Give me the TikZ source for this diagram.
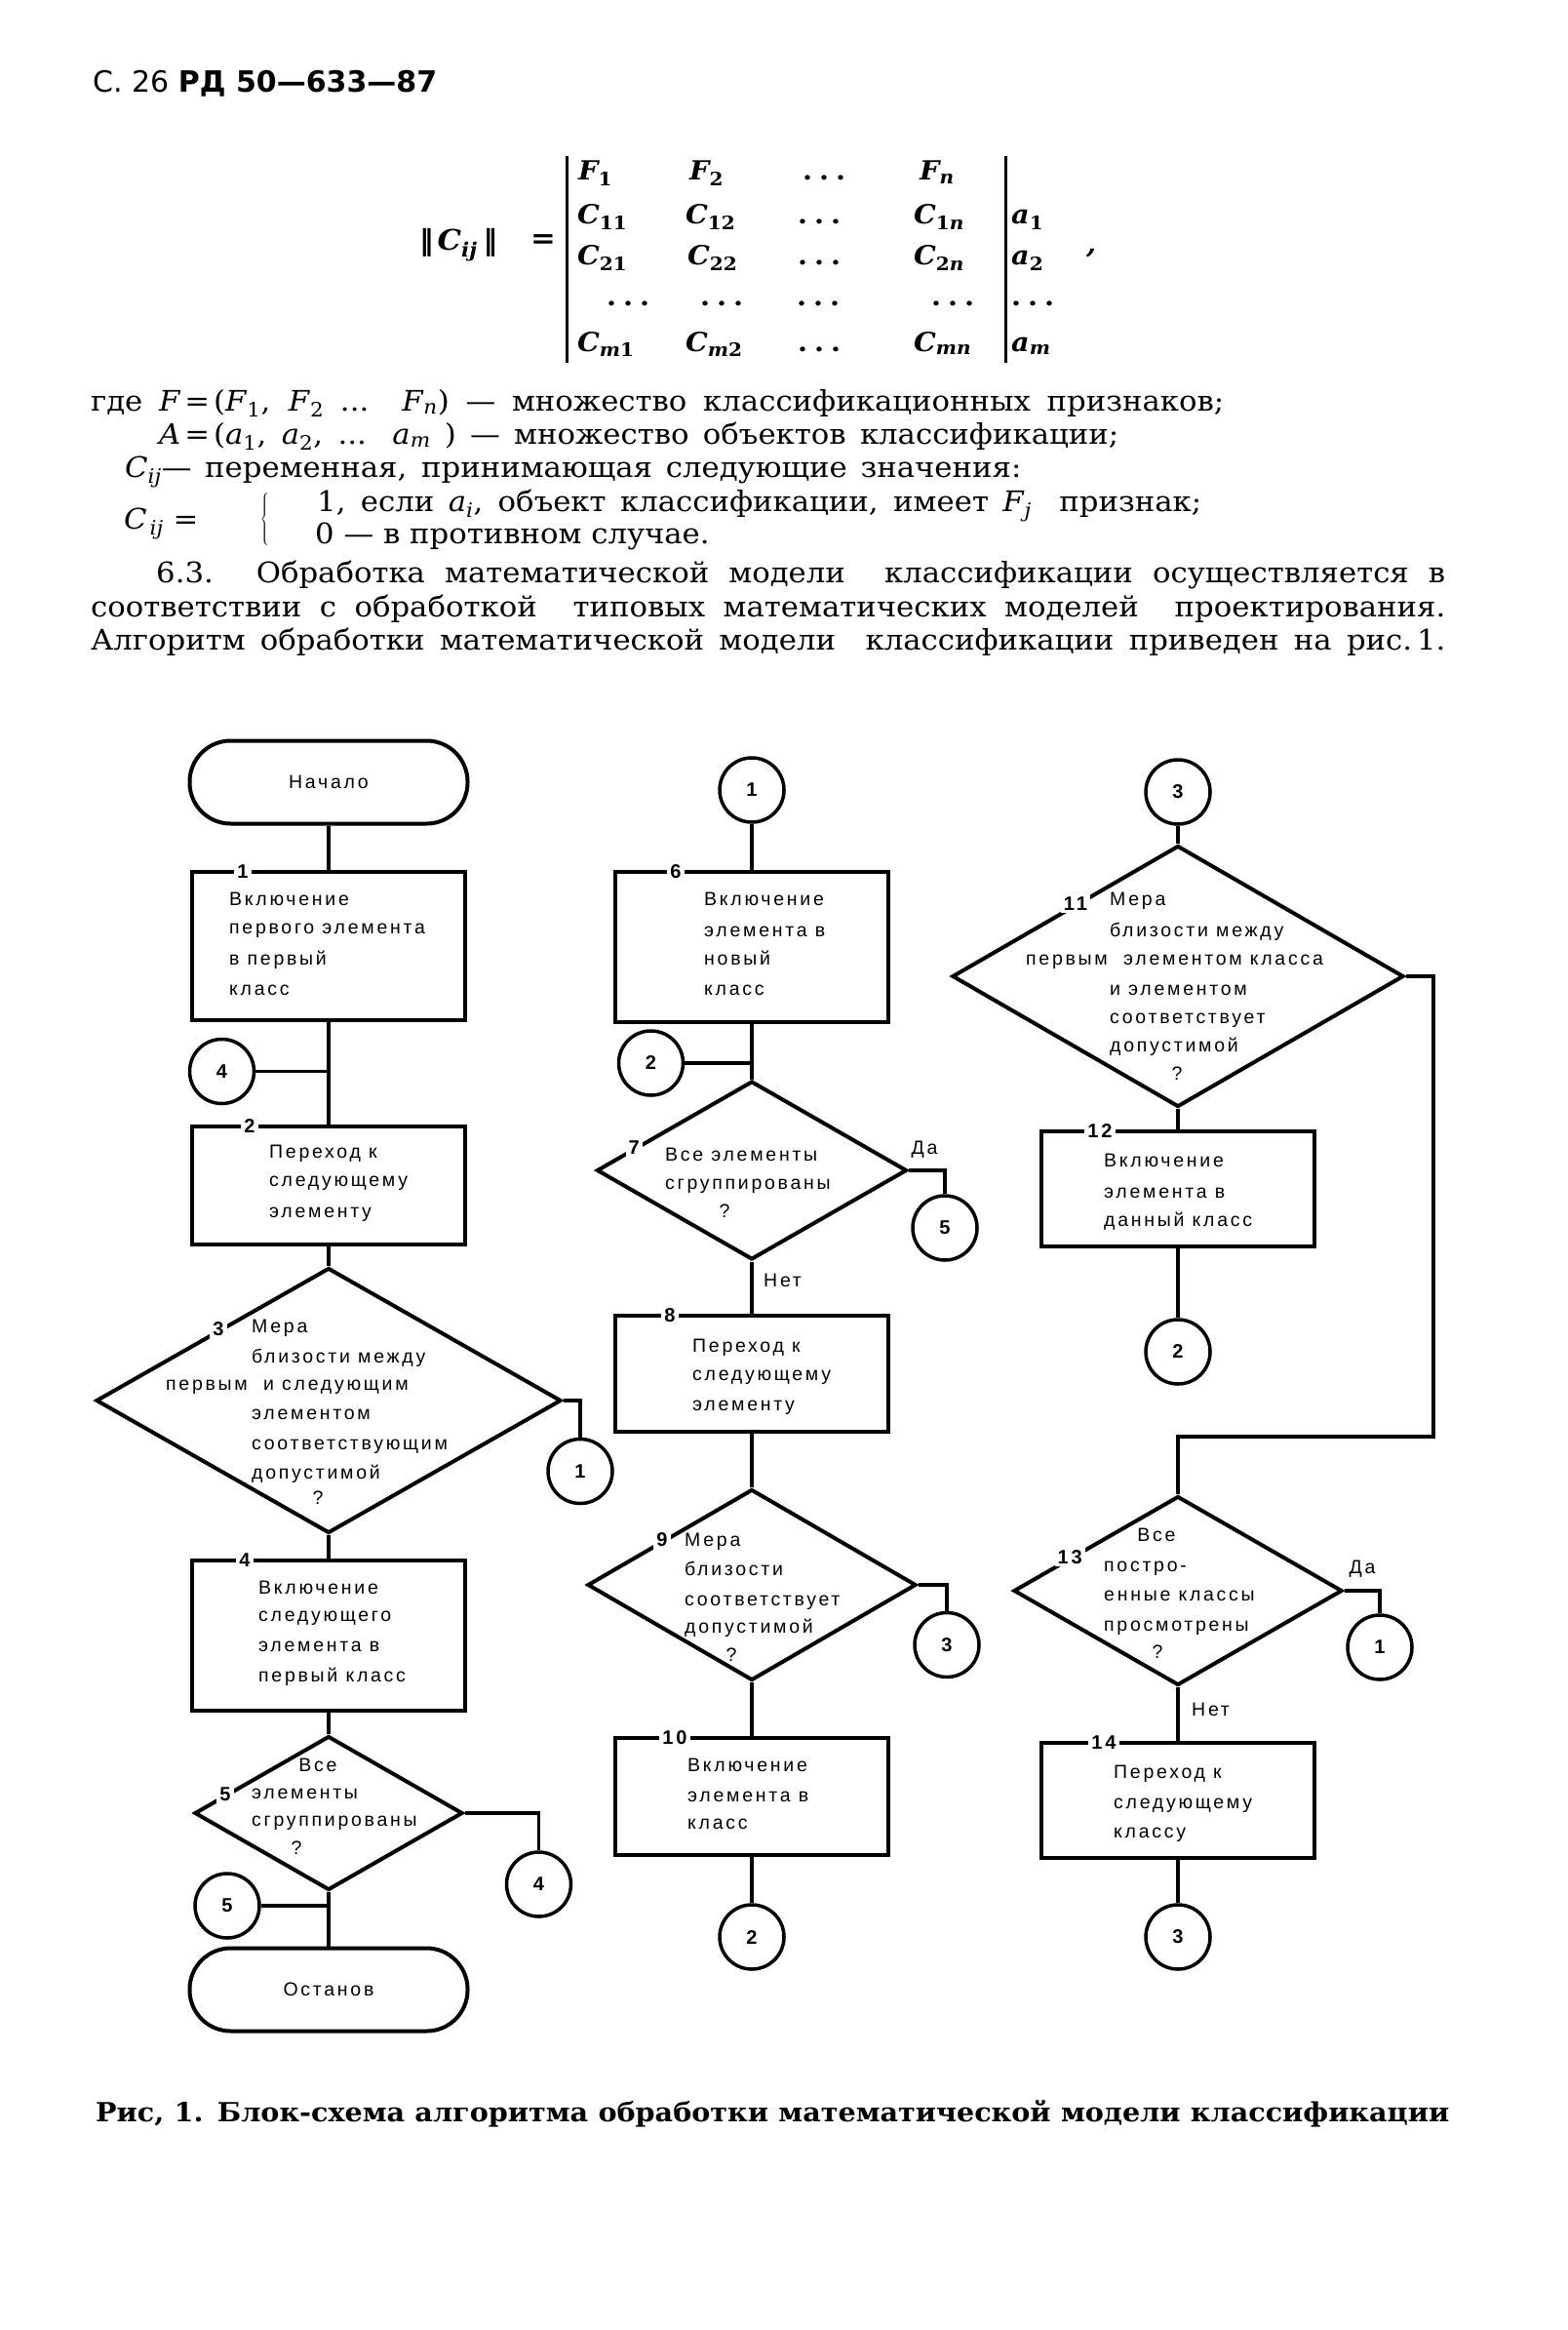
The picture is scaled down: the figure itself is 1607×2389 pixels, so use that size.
\documentclass[tikz,border=0pt]{standalone}
\usepackage{fontspec}
\setmainfont{DejaVu Serif}[FakeStretch=1.06]
\newfontfamily\flowfont{Liberation Sans}[LetterSpace=14]
\newfontfamily\hdrfont{DejaVu Sans}
\usetikzlibrary{shapes.geometric,calc}
\newcommand\flowtxt{\flowfont\fontsize{19.5}{24}\selectfont}
\newcommand\flownum{\flowfont\bfseries\fontsize{20}{24}\selectfont}
\newcommand\bodytxt{\fontsize{29}{34}\selectfont}
\newcommand\mx{\fontsize{27}{32}\selectfont\bfseries\itshape}
\newcommand\vi[1]{\textit{#1}}
\newcommand\sbs[1]{\textsubscript{#1}}
\newcommand\mdots{\upshape .\hspace{7pt}.\hspace{7pt}.}
\newcommand\ftl[4]{\node[ft] (#1) at (#2,#3) {#4};}
\newcommand\ftc[4]{\node[ftcen] (#1) at (#2,#3) {#4};}
\begin{document}
\begin{tikzpicture}[x=1pt,y=-1pt,
  conn/.style={line width=3.5pt},
  procbox/.style={draw, line width=4pt, rectangle, minimum width=280pt, inner sep=0pt},
  decis/.style={draw, line width=4pt, diamond, inner sep=0pt},
  term/.style={draw, line width=4pt, rectangle, rounded corners=42pt, minimum width=285pt, minimum height=85pt, font=\flowtxt},
  conncirc/.style={draw, line width=3.5pt, circle, minimum size=66pt, inner sep=0pt, font=\flownum},
  ft/.style={anchor=mid west, inner sep=0pt, font=\flowtxt},
  ftcen/.style={anchor=mid, inner sep=0pt, font=\flowtxt},
  numlab/.style={fill=white, inner sep=3pt, font=\flownum},
  bodyline/.style={anchor=base west, inner sep=0pt, font=\bodytxt},
  mcell/.style={anchor=base west, inner sep=0pt, font=\mx}]
\fill[white] (0,0) rectangle (1607,2389);
\useasboundingbox (0,0) rectangle (1607,2389);

% ---------- header ----------
\node[anchor=base west, inner sep=0pt] (hdr) at (95,95)
  {\hdrfont\fontsize{30}{36}\selectfont С. 26 \textbf{РД 50—633—87}};

% ---------- matrix ----------
\node[mcell, font=\fontsize{29}{34}\selectfont\bfseries\itshape] (norm) at (430,257) {{\hdrfont\bfseries ‖}\hspace{4pt}C\sbs{ij}\hspace{6pt}{\hdrfont\bfseries ‖}};
\node[mcell, font=\fontsize{29}{34}\selectfont\bfseries] (eq) at (544,255) {=};
\coordinate (lbt) at (581,160); \coordinate (lbb) at (581,372);
\coordinate (rbt) at (1031,160); \coordinate (rbb) at (1031,372);
\draw[line width=3pt] (lbt) -- (lbb);
\draw[line width=3pt] (rbt) -- (rbb);
\node[mcell] (m11) at (593,185) {F\sbs{\upshape 1}};
\node[mcell] (m12) at (707,185) {F\sbs{\upshape 2}};
\node[mcell] (m13) at (823,185) {\mdots};
\node[mcell] (m14) at (943,185) {F\sbs{n}};
\node[mcell] (m21) at (592,230) {C\sbs{\upshape 11}};
\node[mcell] (m22) at (703,230) {C\sbs{\upshape 12}};
\node[mcell] (m23) at (818,230) {\mdots};
\node[mcell] (m24) at (937,230) {C\sbs{\upshape 1\itshape n}};
\node[mcell] (m25) at (1037,230) {a\sbs{\upshape 1}};
\node[mcell] (m31) at (592,272) {C\sbs{\upshape 21}};
\node[mcell] (m32) at (705,272) {C\sbs{\upshape 22}};
\node[mcell] (m33) at (818,272) {\mdots};
\node[mcell] (m34) at (937,272) {C\sbs{\upshape 2\itshape n}};
\node[mcell] (m35) at (1037,272) {a\sbs{\upshape 2}};
\node[mcell] (m41) at (622,314) {\mdots};
\node[mcell] (m42) at (718,314) {\mdots};
\node[mcell] (m43) at (817,314) {\mdots};
\node[mcell] (m44) at (955,314) {\mdots};
\node[mcell] (m45) at (1037,314) {\mdots};
\node[mcell] (m51) at (592,360) {C\sbs{m\upshape 1}};
\node[mcell] (m52) at (703,360) {C\sbs{m\upshape 2}};
\node[mcell] (m53) at (818,360) {\mdots};
\node[mcell] (m54) at (937,360) {C\sbs{mn}};
\node[mcell] (m55) at (1037,360) {a\sbs{m}};
\node[mcell] (comma) at (1114,260) {,};

% ---------- body text ----------
\node[bodyline] (l1) at (93,421) {\makebox[1162pt][s]{где \vi{F}\kern4pt=\kern4pt(\vi{F}\sbs{1}, \vi{F}\sbs{2} ... \vi{F}\sbs{\vi{n}}) — множество классификационных признаков;}};
\node[bodyline] (l2) at (163,455) {\makebox[984pt][s]{\vi{A}\kern4pt=\kern4pt(\vi{a}\sbs{1}, \vi{a}\sbs{2}, ... \vi{a}\sbs{\vi{m}} ) — множество объектов классификации;}};
\node[bodyline] (l3) at (128,489) {\makebox[919pt][s]{\vi{C}\sbs{\vi{ij}}— переменная, принимающая следующие значения:}};
\node[bodyline] (l4a) at (127,542) {\vi{C}\kern3pt\sbs{\vi{ij}} =};
\node[anchor=mid, inner sep=0pt, font=\bodytxt] (brace) at (272,536) {$\left\{\vrule height 23pt depth 23pt width 0pt\right.$};
\node[bodyline] (l4) at (325,524) {\makebox[907pt][s]{1, если \vi{a}\sbs{\vi{i}}, объект классификации, имеет \vi{F}\sbs{\vi{j}}\ \ признак;}};
\node[bodyline] (l5) at (323,557) {0 — в противном случае.};
\node[bodyline] (l6) at (160,597) {\makebox[1322pt][s]{6.3. Обработка математической модели\ \ классификации осуществляется в}};
\node[bodyline] (l7) at (93,632) {\makebox[1389pt][s]{соответствии с обработкой\ \ типовых математических моделей\ \ проектирования.}};
\node[bodyline] (l8) at (93,666) {\makebox[1389pt][s]{Алгоритм обработки математической модели\ \ классификации приведен на рис.\,1.}};

% ---------- left column ----------
\node[term] (start) at (337,802) {Начало};
\node[procbox, minimum height=152pt] (b1) at (337,970) {};
\node[procbox, minimum height=121pt] (b2) at (337,1215.5) {};
\node[decis, minimum width=477pt, minimum height=272pt] (d3) at (337,1436) {};
\node[procbox, minimum height=154pt] (b4) at (337,1677) {};
\node[decis, minimum width=275pt, minimum height=158pt] (d5) at (337,1859) {};
\node[term] (stop) at (337,2040) {Останов};
\node[conncirc] (c4a) at (227.5,1098.5) {4};
\node[conncirc] (c1a) at (595,1508.5) {1};
\node[conncirc] (c4b) at (552.5,1932) {4};
\node[conncirc] (c5a) at (233,1954) {5};

\draw[conn] (start) -- (b1);
\draw[conn] (b1) -- (b2);
\draw[conn] (c4a) -- (c4a -| b1.south);
\draw[conn] (b2) -- (d3);
\draw[conn] (d3.east) -| (c1a.north);
\draw[conn] (d3) -- (b4);
\draw[conn] (b4) -- (d5);
\draw[conn] (d5.east) -| (c4b.north);
\draw[conn] (d5) -- (stop);
\draw[conn] (c5a) -- (c5a -| stop.north);

\node[numlab] (n1) at (249,894) {1};
\node[numlab] (n2) at (256,1155) {2};
\node[numlab] (n3) at ($(d3.west)!0.53!(d3.north)$) {3};
\node[numlab] (n4) at (251,1600) {4};
\node[numlab] (n5) at ($(d5.west)!0.24!(d5.north)$) {5};

\ftl{t1a}{235}{926}{Включение}
\ftl{t1b}{235}{955}{первого элемента}
\ftl{t1c}{235}{986.5}{в первый}
\ftl{t1d}{235}{1018}{класс}
\ftl{t2a}{276}{1185}{Переход к}
\ftl{t2b}{276}{1214}{следующему}
\ftl{t2c}{276}{1245.5}{элементу}
\ftl{t3a}{258}{1364}{Мера}
\ftl{t3b}{258}{1395}{близости между}
\ftl{t3c}{170}{1423}{первым\ \ и следующим}
\ftl{t3d}{258}{1453}{элементом}
\ftl{t3e}{258}{1483.5}{соответствующим}
\ftl{t3f}{258}{1514}{допустимой}
\ftc{t3g}{326}{1540}{?}
\ftl{t4a}{265}{1632}{Включение}
\ftl{t4b}{265}{1660}{следующего}
\ftl{t4c}{265}{1691}{элемента в}
\ftl{t4d}{265}{1722}{первый класс}
\ftc{t5a}{326}{1814}{Все}
\ftl{t5b}{258}{1842}{элементы}
\ftl{t5c}{258}{1870}{сгруппированы}
\ftc{t5d}{304}{1899}{?}

% ---------- middle column ----------
\node[conncirc] (c1m) at (771,810) {1};
\node[procbox, minimum height=154pt] (b6) at (771,971) {};
\node[conncirc] (c2m) at (667.5,1090) {2};
\node[decis, minimum width=318pt, minimum height=183pt] (d7) at (771,1200) {};
\node[conncirc] (c5m) at (969,1259) {5};
\node[procbox, minimum height=119pt] (b8) at (771,1408.5) {};
\node[decis, minimum width=337pt, minimum height=196pt] (d9) at (771,1625) {};
\node[conncirc] (c3m) at (971,1686.5) {3};
\node[procbox, minimum height=120pt] (b10) at (771,1842) {};
\node[conncirc] (c2mb) at (771,1986) {2};

\draw[conn] (c1m) -- (b6);
\draw[conn] (b6) -- (d7);
\draw[conn] (c2m) -- (c2m -| b6.south);
\draw[conn] (d7.east) -| (c5m.north);
\draw[conn] (d7) -- (b8);
\draw[conn] (b8) -- (d9);
\draw[conn] (d9.east) -| (c3m.north);
\draw[conn] (d9) -- (b10);
\draw[conn] (b10) -- (c2mb);

\node[numlab] (n6) at (693,894) {6};
\node[numlab] (n7) at ($(d7.west)!0.25!(d7.north)$) {7};
\node[numlab] (n8) at (687,1349) {8};
\node[numlab] (n9) at ($(d9.west)!0.46!(d9.north)$) {9};
\node[numlab] (n10) at (692,1782) {10};
\node[ftcen] (da1) at (948,1181) {Да};
\node[ft] (net1) at (783,1317) {Нет};

\ftl{t6a}{722}{926}{Включение}
\ftl{t6b}{722}{957.5}{элемента в}
\ftl{t6c}{722}{986.5}{новый}
\ftl{t6d}{722}{1018}{класс}
\ftl{t7a}{682}{1187.5}{Все элементы}
\ftl{t7b}{682}{1216.5}{сгруппированы}
\ftc{t7c}{743}{1245.5}{?}
\ftl{t8a}{710}{1384}{Переход к}
\ftl{t8b}{710}{1413}{следующему}
\ftl{t8c}{710}{1443.5}{элементу}
\ftl{t9a}{702}{1582.6}{Мера}
\ftl{t9b}{702}{1613.3}{близости}
\ftl{t9c}{702}{1644}{соответствует}
\ftl{t9d}{702}{1672}{допустимой}
\ftc{t9e}{750}{1700.5}{?}
\ftl{t10a}{705}{1813.7}{Включение}
\ftl{t10b}{705}{1844.4}{элемента в}
\ftl{t10c}{705}{1872.7}{класс}

% ---------- right column ----------
\node[conncirc] (c3r) at (1208,812) {3};
\node[decis, minimum width=463pt, minimum height=268pt] (d11) at (1208,1001) {};
\node[procbox, minimum height=118pt] (b12) at (1208,1219) {};
\node[conncirc] (c2r) at (1208,1386) {2};
\coordinate (loopA) at (1470,1473);
\node[decis, minimum width=337pt, minimum height=194pt] (d13) at (1208,1631) {};
\node[conncirc] (c1r) at (1415,1689) {1};
\node[procbox, minimum height=118pt] (b14) at (1208,1846) {};
\node[conncirc] (c3rb) at (1208,1986) {3};

\draw[conn] (c3r) -- (d11);
\draw[conn] (d11) -- (b12);
\draw[conn] (b12) -- (c2r);
\draw[conn] (d11.east) -| (loopA) -| (d13.north);
\draw[conn] (d13.east) -| (c1r.north);
\draw[conn] (d13) -- (b14);
\draw[conn] (b14) -- (c3rb);

\node[numlab] (n11) at ($(d11.west)!0.55!(d11.north)$) {11};
\node[numlab] (n12) at (1128,1160) {12};
\node[numlab] (n13) at ($(d13.west)!0.35!(d13.north)$) {13};
\node[numlab] (n14) at (1132,1787) {14};
\node[ftcen] (da2) at (1397,1611) {Да};
\node[ft] (net2) at (1222,1757) {Нет};

\ftl{t11a}{1138}{926.3}{Мера}
\ftl{t11b}{1138}{957.5}{близости между}
\ftl{t11c}{1052}{986.5}{первым\ \ элементом класса}
\ftl{t11d}{1138}{1017.8}{и элементом}
\ftl{t11e}{1138}{1046.8}{соответствует}
\ftl{t11f}{1138}{1075.8}{допустимой}
\ftc{t11g}{1207}{1104.8}{?}
\ftl{t12a}{1132}{1194}{Включение}
\ftl{t12b}{1132}{1225.4}{элемента в}
\ftl{t12c}{1132}{1254.4}{данный класс}
\ftc{t13a}{1186}{1578}{Все}
\ftl{t13b}{1132}{1608.5}{постро-}
\ftl{t13c}{1132}{1639}{енные классы}
\ftl{t13d}{1132}{1670}{просмотрены}
\ftc{t13e}{1187}{1698}{?}
\ftl{t14a}{1142}{1821}{Переход к}
\ftl{t14b}{1142}{1851.5}{следующему}
\ftl{t14c}{1142}{1882}{классу}

% ---------- caption ----------
\node[anchor=base west, inner sep=0pt] (cap) at (98,2175)
  {\fontsize{27}{32}\selectfont\bfseries\makebox[1388pt][s]{Рис, 1. Блок-схема алгоритма обработки математической модели классификации}};
\end{tikzpicture}
\end{document}
